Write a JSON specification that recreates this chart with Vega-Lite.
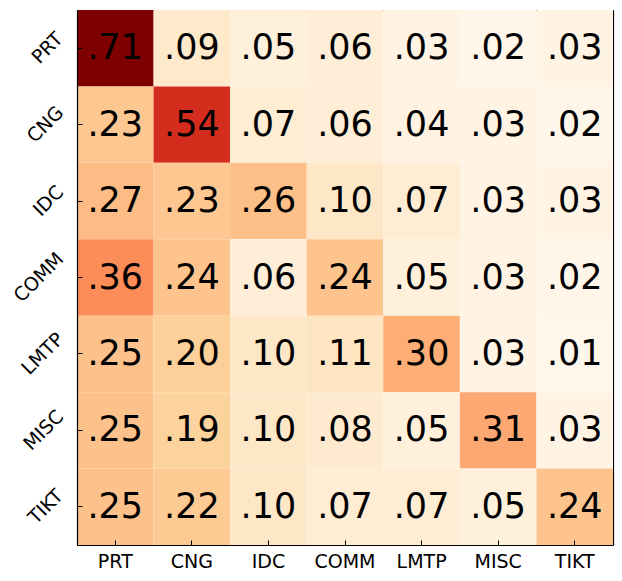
{
  "$schema": "https://vega.github.io/schema/vega-lite/v6.json",
  "width": 536,
  "height": 535,
  "autosize": {"type": "none"},
  "padding": {"left": 77, "top": 10, "right": 9, "bottom": 36},
  "background": "white",
  "config": {
    "view": {"stroke": null},
    "font": "DejaVu Sans"
  },
  "data": {
    "values": [
      {"row": "PRT", "col": "PRT", "v": 0.71}, {"row": "PRT", "col": "CNG", "v": 0.09}, {"row": "PRT", "col": "IDC", "v": 0.05}, {"row": "PRT", "col": "COMM", "v": 0.06}, {"row": "PRT", "col": "LMTP", "v": 0.03}, {"row": "PRT", "col": "MISC", "v": 0.02}, {"row": "PRT", "col": "TIKT", "v": 0.03},
      {"row": "CNG", "col": "PRT", "v": 0.23}, {"row": "CNG", "col": "CNG", "v": 0.54}, {"row": "CNG", "col": "IDC", "v": 0.07}, {"row": "CNG", "col": "COMM", "v": 0.06}, {"row": "CNG", "col": "LMTP", "v": 0.04}, {"row": "CNG", "col": "MISC", "v": 0.03}, {"row": "CNG", "col": "TIKT", "v": 0.02},
      {"row": "IDC", "col": "PRT", "v": 0.27}, {"row": "IDC", "col": "CNG", "v": 0.23}, {"row": "IDC", "col": "IDC", "v": 0.26}, {"row": "IDC", "col": "COMM", "v": 0.10}, {"row": "IDC", "col": "LMTP", "v": 0.07}, {"row": "IDC", "col": "MISC", "v": 0.03}, {"row": "IDC", "col": "TIKT", "v": 0.03},
      {"row": "COMM", "col": "PRT", "v": 0.36}, {"row": "COMM", "col": "CNG", "v": 0.24}, {"row": "COMM", "col": "IDC", "v": 0.06}, {"row": "COMM", "col": "COMM", "v": 0.24}, {"row": "COMM", "col": "LMTP", "v": 0.05}, {"row": "COMM", "col": "MISC", "v": 0.03}, {"row": "COMM", "col": "TIKT", "v": 0.02},
      {"row": "LMTP", "col": "PRT", "v": 0.25}, {"row": "LMTP", "col": "CNG", "v": 0.20}, {"row": "LMTP", "col": "IDC", "v": 0.10}, {"row": "LMTP", "col": "COMM", "v": 0.11}, {"row": "LMTP", "col": "LMTP", "v": 0.30}, {"row": "LMTP", "col": "MISC", "v": 0.03}, {"row": "LMTP", "col": "TIKT", "v": 0.01},
      {"row": "MISC", "col": "PRT", "v": 0.25}, {"row": "MISC", "col": "CNG", "v": 0.19}, {"row": "MISC", "col": "IDC", "v": 0.10}, {"row": "MISC", "col": "COMM", "v": 0.08}, {"row": "MISC", "col": "LMTP", "v": 0.05}, {"row": "MISC", "col": "MISC", "v": 0.31}, {"row": "MISC", "col": "TIKT", "v": 0.03},
      {"row": "TIKT", "col": "PRT", "v": 0.25}, {"row": "TIKT", "col": "CNG", "v": 0.22}, {"row": "TIKT", "col": "IDC", "v": 0.10}, {"row": "TIKT", "col": "COMM", "v": 0.07}, {"row": "TIKT", "col": "LMTP", "v": 0.07}, {"row": "TIKT", "col": "MISC", "v": 0.05}, {"row": "TIKT", "col": "TIKT", "v": 0.24}
    ]
  },
  "transform": [
    {"calculate": "replace(format(datum.v, '.2f'), '0.', '.')", "as": "lbl"}
  ],
  "layer": [
    {
      "mark": {"type": "rect", "strokeWidth": 0},
      "encoding": {
        "x": {
          "field": "col", "type": "nominal",
          "sort": ["PRT", "CNG", "IDC", "COMM", "LMTP", "MISC", "TIKT"],
          "scale": {"paddingInner": 0, "paddingOuter": 0},
          "axis": {"orient": "bottom", "title": null, "labelAngle": 0, "labelFontSize": 19, "labelColor": "black", "labelPadding": 12, "tickSize": -5, "tickColor": "black", "domainColor": "black", "domainWidth": 1.2, "labelFont": "DejaVu Sans"}
        },
        "y": {
          "field": "row", "type": "nominal",
          "sort": ["PRT", "CNG", "IDC", "COMM", "LMTP", "MISC", "TIKT"],
          "scale": {"paddingInner": 0, "paddingOuter": 0},
          "axis": {
            "orient": "left", "title": null, "labelAngle": -45, "labelAlign": "center", "labelBaseline": "middle",
            "labelFontSize": 19, "labelColor": "black",
            "labelPadding": {
              "condition": [
                {"test": "datum.label == 'PRT'", "value": 35},
                {"test": "datum.label == 'CNG'", "value": 37},
                {"test": "datum.label == 'IDC'", "value": 34},
                {"test": "datum.label == 'COMM'", "value": 43.6},
                {"test": "datum.label == 'LMTP'", "value": 39.7},
                {"test": "datum.label == 'MISC'", "value": 38.8}
              ],
              "value": 36.7
            },
            "tickSize": -5, "tickColor": "black", "domainColor": "black", "domainWidth": 1.2, "labelFont": "DejaVu Sans"
          }
        },
        "color": {
          "field": "v", "type": "quantitative", "legend": null,
          "scale": {
            "type": "linear",
            "domain": [0.01, 0.0975, 0.185, 0.2725, 0.36, 0.4475, 0.535, 0.6225, 0.71],
            "range": ["#fff7ec", "#fee8c8", "#fdd49e", "#fdbb84", "#fc8d59", "#ef6548", "#d7301f", "#b30000", "#7f0000"],
            "interpolate": "rgb"
          }
        }
      }
    },
    {
      "mark": {"type": "text", "fontSize": 35, "color": "black", "baseline": "middle", "align": "center", "font": "DejaVu Sans"},
      "encoding": {
        "x": {
          "field": "col", "type": "nominal",
          "sort": ["PRT", "CNG", "IDC", "COMM", "LMTP", "MISC", "TIKT"],
          "scale": {"paddingInner": 0, "paddingOuter": 0},
          "axis": {"orient": "top", "title": null, "labels": false, "tickSize": -5, "tickColor": "black", "domainColor": "black", "domainWidth": 1.2}
        },
        "y": {
          "field": "row", "type": "nominal",
          "sort": ["PRT", "CNG", "IDC", "COMM", "LMTP", "MISC", "TIKT"],
          "scale": {"paddingInner": 0, "paddingOuter": 0},
          "axis": {"orient": "right", "title": null, "labels": false, "tickSize": -5, "tickColor": "black", "domainColor": "black", "domainWidth": 1.2}
        },
        "text": {"field": "lbl", "type": "nominal"}
      }
    }
  ],
  "resolve": {"axis": {"x": "independent", "y": "independent"}}
}
